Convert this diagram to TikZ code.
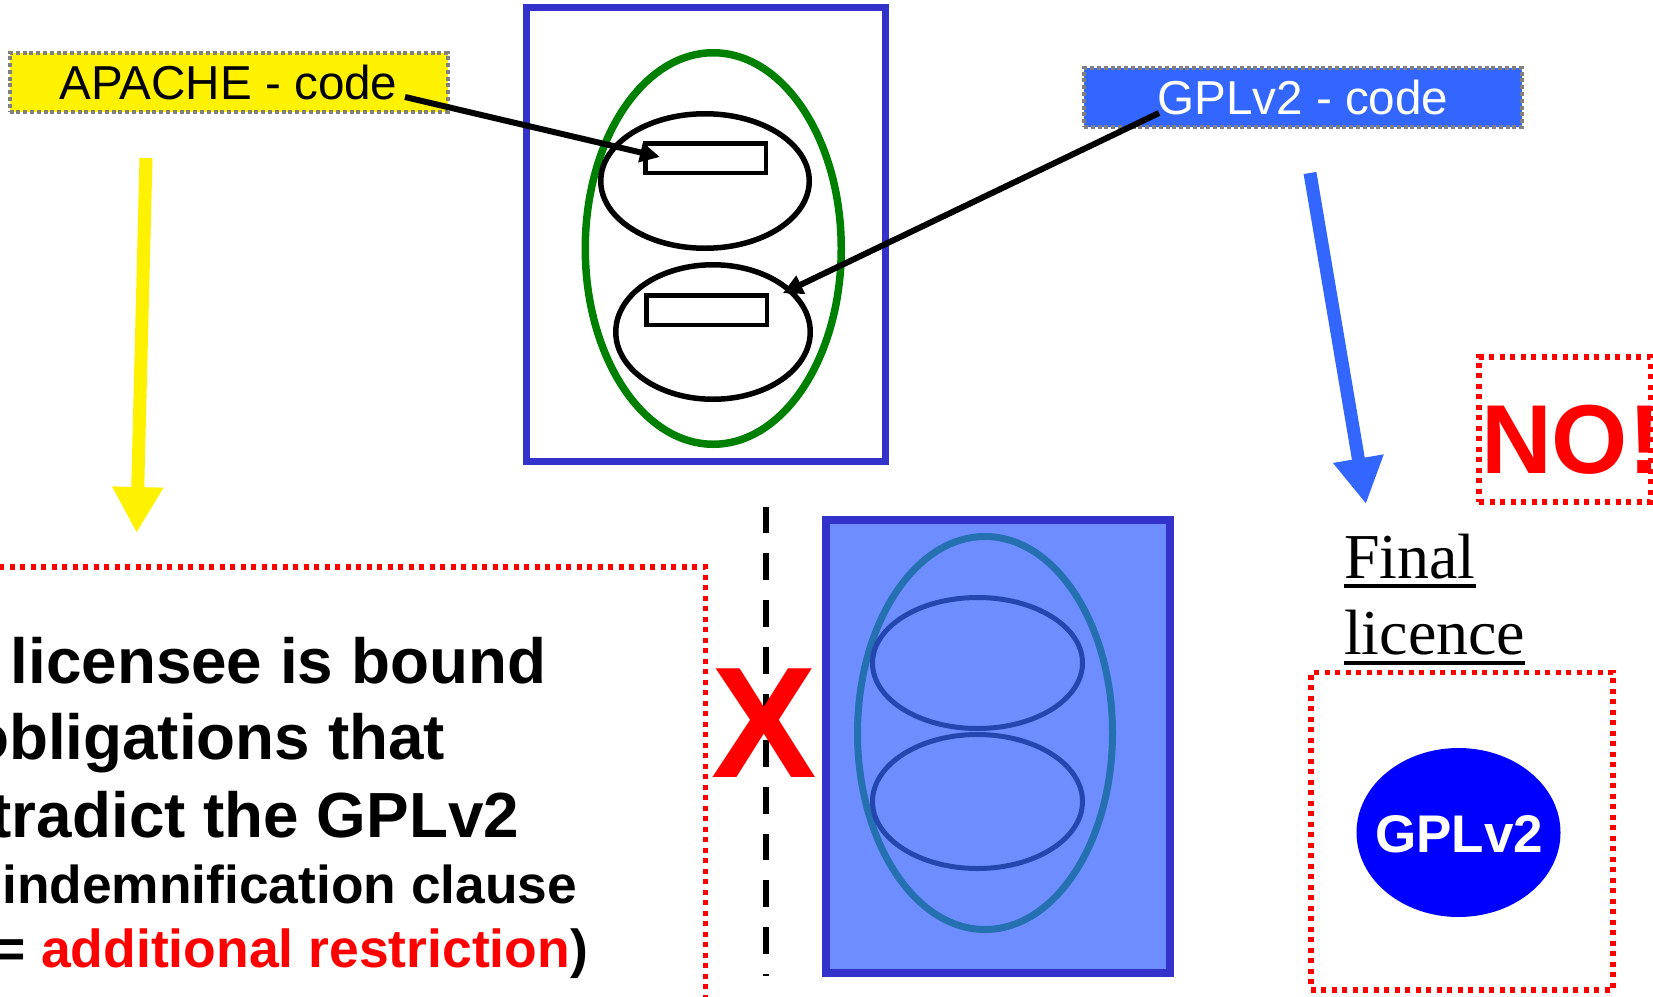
\documentclass[tikz,border=0pt]{standalone}
\usepackage{fontspec}
\setmainfont{Liberation Sans}
\newfontfamily\serifface{Liberation Serif}
\usetikzlibrary{shapes.geometric,arrows.meta}
\definecolor{boxblue}{RGB}{51,51,204}
\definecolor{codeblue}{RGB}{51,102,255}
\definecolor{fillblue}{RGB}{110,142,255}
\definecolor{tealring}{RGB}{36,112,176}
\definecolor{innerring}{RGB}{35,70,175}
\definecolor{darkgreen}{RGB}{0,128,0}
\definecolor{dotgray}{RGB}{128,128,128}
\newcommand\fsz[1]{\fontsize{#1}{#1}\selectfont}
\begin{document}
\begin{tikzpicture}[x=1pt,y=-1pt,
  every node/.style={inner sep=0pt, outer sep=0pt},
  ring/.style={draw, ellipse, inner sep=0pt},
  codelabel/.style={rectangle, draw=dotgray, line width=4pt, dash pattern=on 4pt off 2.8pt,
     minimum width=438pt, minimum height=59pt, font=\fsz{47.6}},
  reddots/.style={draw=red, line width=5.5pt, dash pattern=on 5pt off 5.5pt},
  fatarrow/.style={line width=13pt, -{Triangle[length=46pt,width=48pt]}},
  thinarrow/.style={line width=6pt, -{Triangle[length=20pt,width=19pt]}},
  frame/.style={rectangle, draw=boxblue}
]
\useasboundingbox (0,0) rectangle (1653,996);

% top composition
\node[frame, line width=7pt, minimum width=359.5pt, minimum height=453.5pt] (frameA) at (705.75,234.25) {};
\node[ring, draw=darkgreen, line width=7.5pt, minimum width=256pt, minimum height=391.5pt] (greenring) at (713.25,248.5) {};
\node[ring, line width=5.5pt, minimum width=208.5pt, minimum height=134.5pt] (ellA) at (705,181) {};
\node[ring, line width=5.5pt, minimum width=194.5pt, minimum height=134.5pt] (ellB) at (713,332) {};
\node[rectangle, draw, line width=4.5pt, minimum width=120.5pt, minimum height=29.5pt] (rectA) at (705.5,158) {};
\node[rectangle, draw, line width=4.5pt, minimum width=120.5pt, minimum height=29.5pt] (rectB) at (706.5,310) {};

% labels
\node[codelabel, fill=yellow] (apache) at (228.6,82.35) {APACHE - code};
\node[codelabel, fill=codeblue, text=white] (gplcode) at (1302.9,97.7) {GPLv2 - code};

% arrows into the composition
\coordinate (apacheEnd) at (405,97);
\coordinate (apacheTip) at (660,157);
\coordinate (gplStart) at (1159,113);
\coordinate (gplTip) at (782.7,293.3);
\draw[thinarrow] (apacheEnd) -- (apacheTip);
\draw[thinarrow] (gplStart) -- (gplTip);

% big arrows
\coordinate (yTop) at (146,158);
\coordinate (yTip) at (136.6,533);
\draw[fatarrow, yellow] (yTop) -- (yTip);
\coordinate (bTop) at (1310,173);
\coordinate (bTip) at (1366,504);
\draw[fatarrow, codeblue] (bTop) -- (bTip);

% left red dotted box with text
\draw[reddots] (-20,567) rectangle (705.7,1040);
\node[anchor=base east, font=\bfseries\fsz{63.8}] (l1) at (546,683) {licensee is bound};
\node[anchor=base east, font=\bfseries\fsz{63.8}] (l2) at (445,759) {obligations that};
\node[anchor=base east, font=\bfseries\fsz{63.8}] (l3) at (519,837) {tradict the GPLv2};
\node[anchor=base east, font=\bfseries\fsz{53.3}] (l4) at (577,903) {indemnification clause};
\node[anchor=base east, font=\bfseries\fsz{53.5}] (l5) at (588,967) {= \textcolor{red}{additional restriction})};

% dashed separator and X
\coordinate (dTop) at (766,506.7);
\coordinate (dBot) at (766,975.7);
\draw[line width=6pt, dash pattern=on 26.7pt off 20pt] (dTop) -- (dBot);
\node[anchor=base west, text=red, font=\bfseries\fsz{158}] (xmark) at (711,777) {X};

% lower composition
\node[frame, fill=fillblue, line width=8pt, minimum width=344pt, minimum height=453pt] (frameB) at (998,746.5) {};
\node[ring, draw=tealring, line width=7pt, minimum width=255pt, minimum height=393pt] (tealEll) at (985,733) {};
\node[ring, draw=innerring, line width=5pt, minimum width=210pt, minimum height=131pt] (innerA) at (977.5,663) {};
\node[ring, draw=innerring, line width=5pt, minimum width=210pt, minimum height=134pt] (innerB) at (977.5,801.5) {};

% NO! box
\node[rectangle, reddots, minimum width=171.3pt, minimum height=145pt] (nobox) at (1564.65,429.5) {};
\node[anchor=base west, text=red, font=\bfseries\fsz{98}] (notext) at (1481,473) {NO!};

% final licence
\node[anchor=base west, font=\serifface\fsz{64}] (fin) at (1344,578) {Final};
\node[anchor=base west, font=\serifface\fsz{64}] (lic) at (1344,654) {licence};
\draw[line width=3.3pt] ([yshift=-8pt]fin.base west) -- ([yshift=-8pt]fin.base east);
\draw[line width=3.3pt] ([yshift=-9pt]lic.base west) -- ([yshift=-9pt]lic.base east);
\node[rectangle, reddots, minimum width=302.2pt, minimum height=317.3pt] (finalbox) at (1461.9,831.15) {};
\node[ellipse, fill=blue, minimum width=204pt, minimum height=169pt] (gplell) at (1458.5,832.5) {};
\node[text=white, font=\bfseries\fsz{53}] (gpltext) at (1459,834) {GPLv2};
\end{tikzpicture}
\end{document}
